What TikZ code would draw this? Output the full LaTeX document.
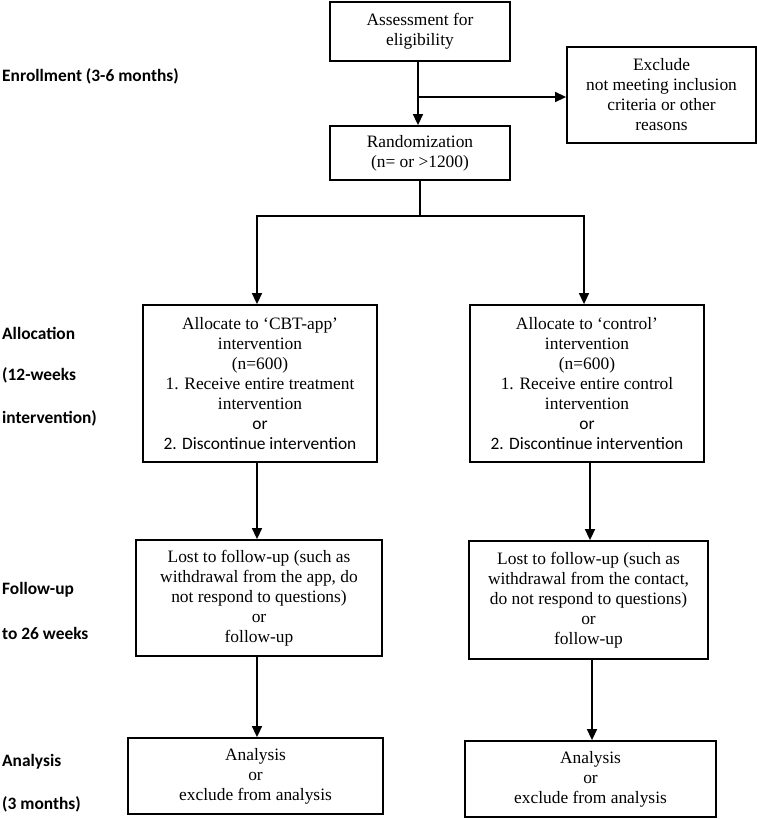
\documentclass[tikz,border=0pt]{standalone}
\usepackage{fontspec}
\setmainfont{Liberation Serif}
\newfontfamily\calib{Carlito}
\usetikzlibrary{arrows.meta}
\begin{document}
\begin{tikzpicture}[x=1pt,y=-1pt,
  box/.style={draw, line width=1.8pt, align=center, inner sep=0pt,
              font=\fontsize{17.4}{20}\selectfont},
  ln/.style={line width=1.5pt},
  arr/.style={line width=1.5pt, -{Triangle[length=11pt,width=10pt]}},
  lab/.style={anchor=west, inner sep=0pt, font=\calib\bfseries\fontsize{17.4}{20}\selectfont}]
\useasboundingbox (0,0) rectangle (757,819);

% boxes
\node[box, minimum width=180pt, minimum height=59pt] (A) at (420,31.5)
  {Assessment for\\eligibility};
\node[box, minimum width=189pt, minimum height=96pt] (Ex) at (661.5,95)
  {Exclude\\not meeting inclusion\\criteria or other\\reasons};
\node[box, minimum width=180pt, minimum height=54pt] (R) at (420,153)
  {Randomization\\(n= or >1200)};
\node[box, minimum width=234pt, minimum height=157pt] (AL) at (260,383.5)
  {Allocate to ‘CBT-app’\\intervention\\(n=600)\\1. Receive entire treatment\\intervention\\{\calib or}\\{\calib 2. Discontinue intervention}};
\node[box, minimum width=234pt, minimum height=157pt] (AR) at (587,383.5)
  {Allocate to ‘control’\\intervention\\(n=600)\\1. Receive entire control\\intervention\\{\calib or}\\{\calib 2. Discontinue intervention}};
\node[box, minimum width=246pt, minimum height=116pt] (FL) at (259,598)
  {Lost to follow-up (such as\\withdrawal from the app, do\\not respond to questions)\\or\\follow-up};
\node[box, minimum width=239pt, minimum height=118pt] (FR) at (588.5,600)
  {Lost to follow-up (such as\\withdrawal from the contact,\\do not respond to questions)\\or\\follow-up};
\node[box, minimum width=255pt, minimum height=76pt] (NL) at (255.5,776)
  {Analysis\\or\\exclude from analysis};
\node[box, minimum width=251pt, minimum height=76pt] (NR) at (590.5,779)
  {Analysis\\or\\exclude from analysis};

% left labels
\node[lab] (l1) at (2,76) {Enrollment (3-6 months)};
\node[lab] (l2) at (2,333) {Allocation};
\node[lab] (l3) at (2,375) {(12-weeks};
\node[lab] (l4) at (2,418) {intervention)};
\node[lab] (l5) at (2,590) {Follow-up};
\node[lab] (l6) at (2,633) {to 26 weeks};
\node[lab] (l7) at (2,762) {Analysis};
\node[lab] (l8) at (2,804) {(3 months)};

% connector helpers
\coordinate (cx) at (418,0);
\coordinate (b) at (418,97);
\coordinate (s) at (420,216);
\coordinate (sl) at (257,216);
\coordinate (sr) at (584,216);
\coordinate (xl1) at (257,0);
\coordinate (xr1) at (590,0);
\coordinate (xr2) at (592,0);

% connectors
\draw[arr] (A.south -| cx) -- (R.north -| cx);
\draw[arr] (b) -- (Ex.west |- b);
\draw[ln] (R.south -| s) -- (s);
\draw[arr] (s) -- (sl) -- (AL.north -| sl);
\draw[arr] (s) -- (sr) -- (AR.north -| sr);
\draw[arr] (AL.south -| xl1) -- (FL.north -| xl1);
\draw[arr] (AR.south -| xr1) -- (FR.north -| xr1);
\draw[arr] (FL.south -| xl1) -- (NL.north -| xl1);
\draw[arr] (FR.south -| xr2) -- (NR.north -| xr2);
\end{tikzpicture}
\end{document}
